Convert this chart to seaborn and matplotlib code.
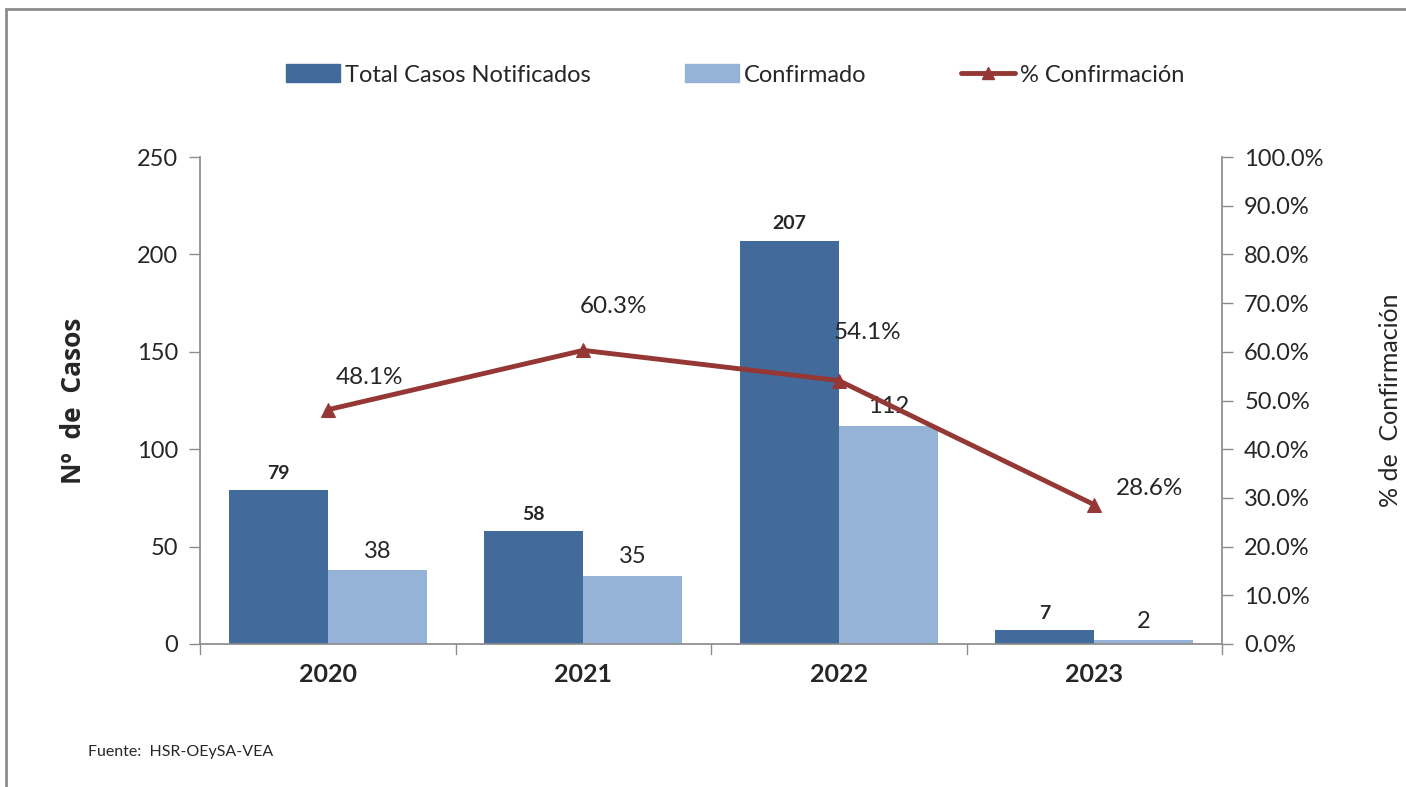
import numpy as np
import pandas as pd
import matplotlib
matplotlib.use("Agg")
import matplotlib.pyplot as plt
import seaborn as sns
from matplotlib.lines import Line2D
from matplotlib.patches import Patch, Rectangle

years = ["2020", "2021", "2022", "2023"]
total_casos = [79, 58, 207, 7]
confirmado = [38, 35, 112, 2]
pct_confirmacion = [48.1, 60.3, 54.1, 28.6]
series_names = ["Total Casos Notificados", "Confirmado", "% Confirmación"]
y_ticks = [0, 50, 100, 150, 200, 250]
y2_ticks = [0, 10, 20, 30, 40, 50, 60, 70, 80, 90, 100]

sns.set_theme(style="white")
plt.rcParams["font.family"] = ["Lato", "DejaVu Sans"]

DARK = "#426A9B"
LIGHT = "#95B3D7"
RED = "#953735"
GREY = "#8C8C8C"

df = pd.DataFrame({
    "year": years * 2,
    "value": total_casos + confirmado,
    "serie": [series_names[0]] * 4 + [series_names[1]] * 4,
})

fig = plt.figure(figsize=(14.06, 7.87), dpi=100)
ax = fig.add_axes([200 / 1406, 1 - 644 / 787, (1222 - 200) / 1406, (644 - 157) / 787])

sns.barplot(data=df, x="year", y="value", hue="serie", order=years,
            hue_order=series_names[:2], palette=[DARK, LIGHT], width=0.776,
            saturation=1, ax=ax, legend=False, edgecolor="none", linewidth=0)

ax.set_xlim(-0.5, 3.5)
ax.set_ylim(0, 250)
ax.set_yticks(y_ticks)
ax.set_yticklabels([str(v) for v in y_ticks], fontsize=17)
ax.set_xticks(range(4))
ax.set_xticklabels(years, fontsize=18, fontweight="bold")
ax.tick_params(axis="x", length=0, pad=14)
ax.tick_params(axis="y", length=8, width=1, color=GREY, direction="out", left=True, pad=8)
# category boundary ticks
for xb in np.arange(-0.5, 4.0, 1.0):
    ax.plot([xb, xb], [0, -0.02], transform=ax.get_xaxis_transform(), color=GREY,
            lw=1, clip_on=False)
for s in ["top", "right"]:
    ax.spines[s].set_visible(False)
ax.spines["left"].set_color(GREY)
ax.spines["bottom"].set_color(GREY)
ax.set_xlabel("")
ax.set_ylabel("Nº  de  Casos", fontsize=19, fontweight="bold", labelpad=36,
              family=["Open Sans", "DejaVu Sans"])

# value labels
for i, c in enumerate(ax.containers):
    for bar, v in zip(c, (total_casos if i == 0 else confirmado)):
        x = bar.get_x() + bar.get_width() / 2
        if i == 0:
            ax.annotate(str(v), (x, bar.get_height()), xytext=(0, 6), textcoords="offset points",
                        ha="center", va="bottom", fontsize=14, fontweight="bold")
        else:
            ax.annotate(str(v), (x, bar.get_height()), xytext=(0, 6), textcoords="offset points",
                        ha="center", va="bottom", fontsize=17)

ax2 = ax.twinx()
sns.lineplot(x=np.arange(4), y=pct_confirmacion, ax=ax2, color=RED, lw=3.5,
             marker="^", markersize=10, markeredgecolor=RED, markerfacecolor=RED)
ax2.set_ylim(0, 100)
ax2.set_yticks(y2_ticks)
ax2.set_yticklabels([f"{v:.1f}%" for v in y2_ticks], fontsize=17)
ax2.tick_params(axis="y", length=8, width=1, color=GREY, direction="out", right=True, pad=8)
for s in ["top", "left", "bottom"]:
    ax2.spines[s].set_visible(False)
ax2.spines["right"].set_color(GREY)
ax2.set_ylabel("% de  Confirmación", fontsize=18, labelpad=40)
ax2.set_xlim(-0.5, 3.5)

label_offsets = [(30, 16), (22, 24), (21, 27), (40, 4)]
for i, (p, off) in enumerate(zip(pct_confirmacion, label_offsets)):
    ax2.annotate(f"{p:.1f}%", (i, p), xytext=off, textcoords="offset points",
                 ha="center", va="bottom", fontsize=17.5)

handles = [Patch(color=DARK), Patch(color=LIGHT),
           Line2D([0], [0], color=RED, lw=3.5, marker="^", markersize=8)]
fig.legend(handles, series_names, loc="center", bbox_to_anchor=(735 / 1406, 1 - 75 / 787),
           ncol=3, frameon=False, fontsize=17, columnspacing=4.0, handlelength=2.3,
           handletextpad=0.2, handleheight=0.8)

fig.text(88 / 1406, 1 - 752 / 787, "Fuente:  HSR-OEySA-VEA", fontsize=11.5, va="center", ha="left")

# outer chart frame
fig.patches.append(Rectangle((6 / 1406, -0.05), 1.1, (1 - 9 / 787) + 0.05,
                             transform=fig.transFigure, fill=False,
                             edgecolor="#8C8C8C", lw=2))

fig.savefig("out.png", dpi=100)
